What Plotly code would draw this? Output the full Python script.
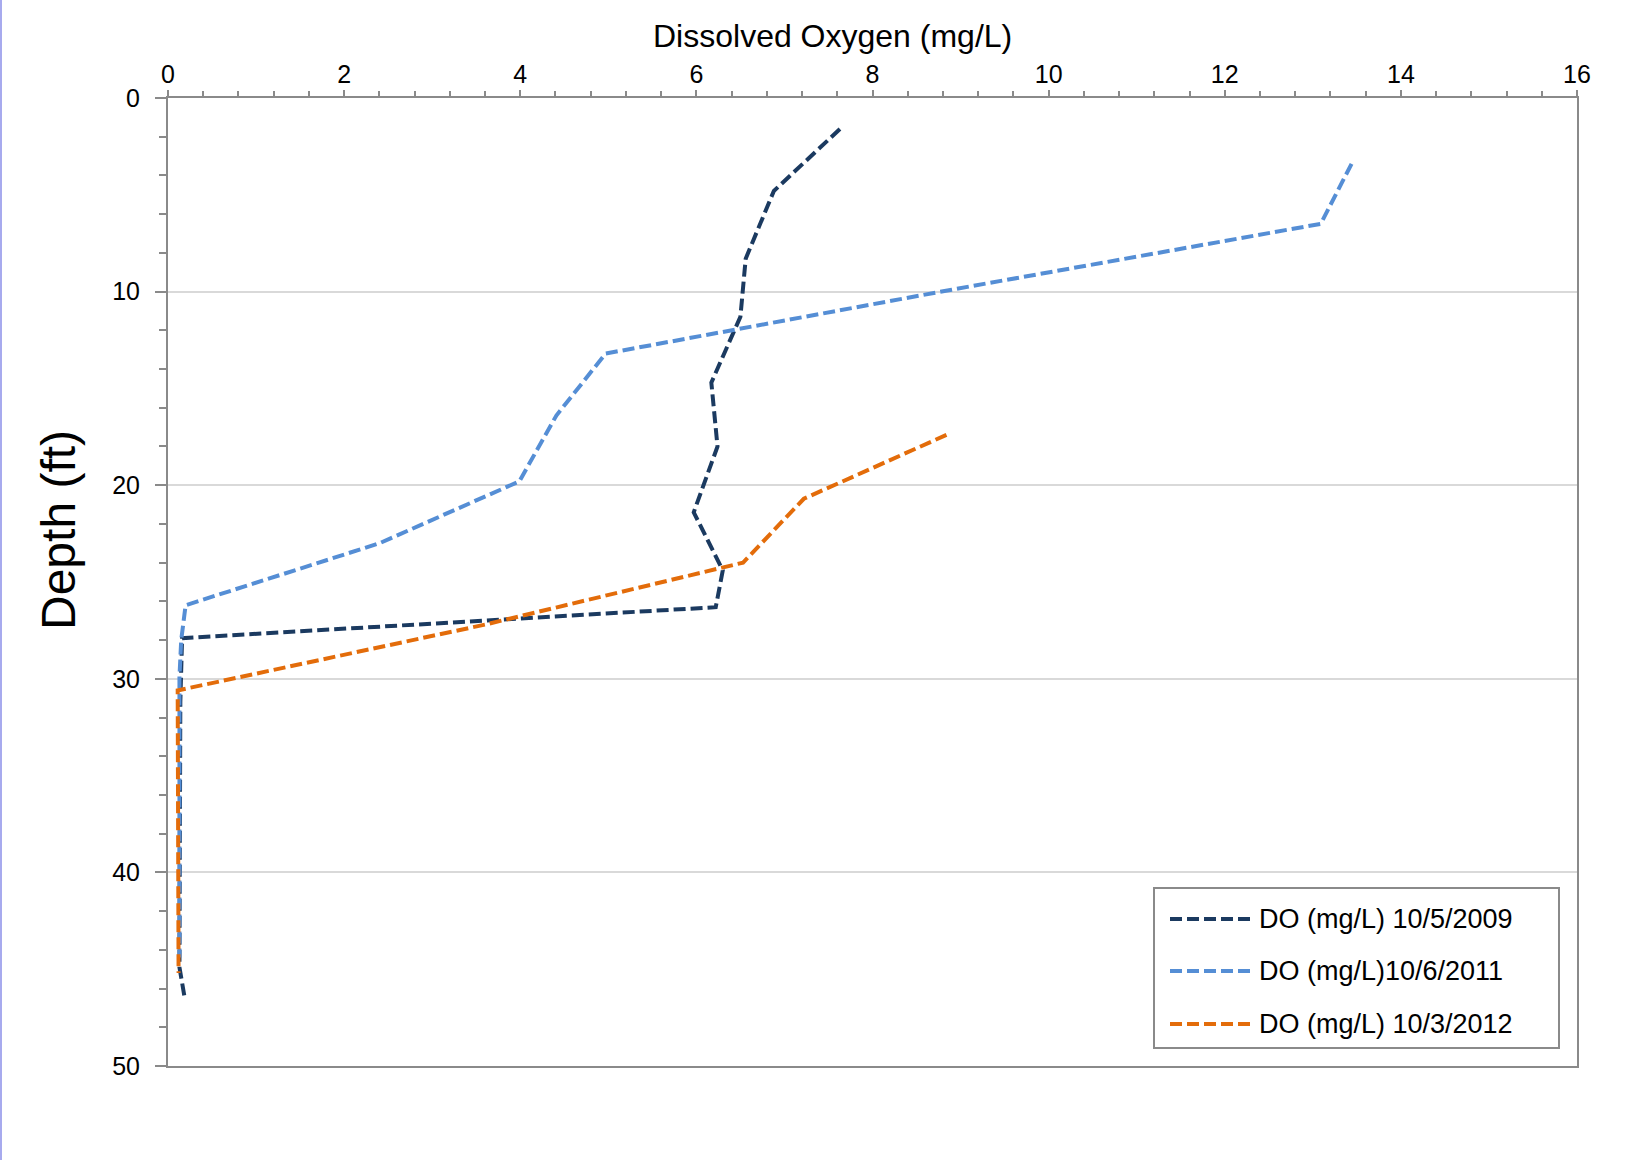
import plotly.graph_objects as go

# ---- data ----
depth_2009 = [1.6, 4.8, 8.3, 11.3, 14.7, 18.0, 21.4, 24.4, 26.3, 27.9, 31.2, 34.5, 37.8, 41.0, 44.9, 46.5]
do_2009 = [7.63, 6.88, 6.56, 6.50, 6.17, 6.24, 5.97, 6.30, 6.22, 0.16, 0.14, 0.14, 0.14, 0.14, 0.13, 0.19]

depth_2011 = [3.4, 6.5, 9.9, 13.2, 16.4, 19.8, 23.0, 26.2, 28.0, 29.9, 33.2, 36.5, 39.8, 43.0, 44.4]
do_2011 = [13.44, 13.09, 8.9, 4.97, 4.41, 3.99, 2.40, 0.20, 0.15, 0.13, 0.13, 0.13, 0.13, 0.13, 0.13]

depth_2012 = [17.4, 20.7, 24.0, 27.2, 30.6, 33.9, 37.2, 40.5, 43.8, 45.2]
do_2012 = [8.84, 7.22, 6.53, 3.60, 0.11, 0.11, 0.11, 0.11, 0.11, 0.12]

series_names = ["DO (mg/L) 10/5/2009", "DO (mg/L)10/6/2011", "DO (mg/L) 10/3/2012"]
series_colors = ["#1B3A60", "#558ED5", "#E36C0A"]

x_ticks = [0, 2, 4, 6, 8, 10, 12, 14, 16]
y_ticks = [0, 10, 20, 30, 40, 50]

FONT = "Arial, Liberation Sans, Helvetica, sans-serif"
AXIS_GRAY = "#8A8A8A"
DASH = "12px,5px"
LW = 4

W, H = 1652, 1160
ML, MR, MT, MB = 168, 75, 98, 94
PW, PH = W - ML - MR, H - MT - MB


def px_x(px):
    return (px - ML) / PW


def px_y(py):
    return 1 - (py - MT) / PH


fig = go.Figure()
for xs, ys, name, color in [
    (do_2009, depth_2009, series_names[0], series_colors[0]),
    (do_2011, depth_2011, series_names[1], series_colors[1]),
    (do_2012, depth_2012, series_names[2], series_colors[2]),
]:
    fig.add_trace(go.Scatter(
        x=xs, y=ys, mode="lines", name=name, showlegend=False,
        line=dict(color=color, width=LW, dash=DASH),
    ))

fig.update_layout(
    width=W, height=H,
    margin=dict(l=ML, r=MR, t=MT, b=MB, autoexpand=False),
    paper_bgcolor="white", plot_bgcolor="white",
    font=dict(family=FONT, color="black", size=25),
    showlegend=False,
    xaxis=dict(
        side="top", range=[0, 16], tickmode="array", tickvals=x_ticks,
        showgrid=False, zeroline=False, automargin=False,
        showline=True, linecolor=AXIS_GRAY, linewidth=2, mirror=True,
        ticks="outside", ticklen=6, tickwidth=2, tickcolor=AXIS_GRAY,
        minor=dict(dtick=0.4, tick0=0, ticks="outside", ticklen=5, tickwidth=1.5,
                   tickcolor=AXIS_GRAY, showgrid=False),
        tickfont=dict(size=25), ticklabelstandoff=-3,
    ),
    yaxis=dict(
        range=[50, 0], tickmode="array", tickvals=y_ticks,
        showgrid=True, gridcolor="#D9D9D9", gridwidth=1.5,
        zeroline=False, automargin=False,
        showline=True, linecolor=AXIS_GRAY, linewidth=2, mirror=True,
        ticks="outside", ticklen=11, tickwidth=2, tickcolor=AXIS_GRAY,
        minor=dict(dtick=2, tick0=0, ticks="outside", ticklen=7, tickwidth=1.5,
                   tickcolor=AXIS_GRAY, showgrid=False),
        tickfont=dict(size=25), ticklabelstandoff=10,
    ),
)

# axis titles (both sit off-centre in the reference)
fig.add_annotation(text="Dissolved Oxygen (mg/L)", xref="paper", yref="paper",
                   x=px_x(832), y=px_y(36), xanchor="center", yanchor="middle",
                   showarrow=False,
                   font=dict(family=FONT, size=32, color="black"))
fig.add_annotation(text="Depth (ft)", xref="paper", yref="paper",
                   x=px_x(58), y=px_y(530), xanchor="center", yanchor="middle",
                   textangle=-90, showarrow=False,
                   font=dict(family=FONT, size=48, color="black"))

# legend box, drawn to match the reference's long line samples
LEG_L, LEG_T, LEG_R, LEG_B = 1154, 888, 1559, 1048
fig.add_shape(type="rect", xref="paper", yref="paper",
              x0=px_x(LEG_L), x1=px_x(LEG_R), y0=px_y(LEG_B), y1=px_y(LEG_T),
              fillcolor="white", line=dict(color=AXIS_GRAY, width=2), layer="above")
row_y = [919, 971, 1024]
for ry, name, color in zip(row_y, series_names, series_colors):
    fig.add_shape(type="line", xref="paper", yref="paper",
                  x0=px_x(1170), x1=px_x(1252), y0=px_y(ry), y1=px_y(ry),
                  line=dict(color=color, width=LW, dash=DASH), layer="above")
    fig.add_annotation(text=name, xref="paper", yref="paper",
                       x=px_x(1257), y=px_y(ry), xanchor="left", yanchor="middle",
                       showarrow=False,
                       font=dict(family=FONT, size=27, color="black"))

# thin lavender strip along the left edge of the image
fig.add_shape(type="rect", xref="paper", yref="paper",
              x0=-ML / PW, x1=(-ML + 2) / PW, y0=-MB / PH, y1=1 + MT / PH,
              fillcolor="#A7AAEE", line=dict(width=0), layer="above")

fig.write_html("out.html", config={"displayModeBar": False},
               post_script="document.body.style.margin='0';")
